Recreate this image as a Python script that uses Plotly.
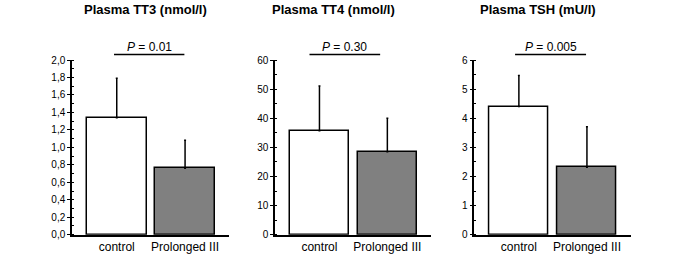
import plotly.graph_objects as go

groups = ["control", "Prolonged III"]
titles = ["Plasma TT3 (nmol/l)", "Plasma TT4 (nmol/l)", "Plasma TSH (mU/l)"]
means_tt3 = [1.34, 0.76]
sd_tt3 = [0.45, 0.32]
means_tt4 = [35.7, 28.5]
sd_tt4 = [15.4, 11.5]
means_tsh = [4.40, 2.32]
sd_tsh = [1.07, 1.39]
p_labels = ["0.01", "0.30", "0.005"]
y_max = [2.0, 60, 6]
y_dtick = [0.2, 10, 1]
y_minor = [0.1, 5, 0.5]
y_fmt = [".1f", "d", "d"]

means = [means_tt3, means_tt4, means_tsh]
sds = [sd_tt3, sd_tt4, sd_tsh]

W, H = 685, 256


def px_x(v):
    return v / W


def px_y(v):
    return (H - v) / H


x_dom_px = [(72, 229), (275, 431), (474.3, 630.7)]
y_dom = [px_y(234.7), px_y(60)]
xr = [-0.655, 1.643]
p_line = [(-0.04, 0.99), (-0.147, 0.894), (-0.056, 0.987)]
title_x = [145, 333, 537.7]

font = "Liberation Sans, Arial, sans-serif"
fig = go.Figure()
layout = dict(
    template="none",
    width=W, height=H, margin=dict(l=0, r=0, t=0, b=0, autoexpand=False),
    paper_bgcolor="white", plot_bgcolor="white", showlegend=False,
    separators=",.", font=dict(family=font, color="black"),
    bargap=0, shapes=[], annotations=[],
)
for i in range(3):
    xa = "x" if i == 0 else f"x{i+1}"
    ya = "y" if i == 0 else f"y{i+1}"
    fig.add_trace(go.Bar(
        x=[0, 1], y=means[i], width=0.875,
        marker=dict(color=["white", "#808080"], line=dict(color="black", width=1.5)),
        error_y=dict(type="data", array=sds[i], arrayminus=[0, 0], symmetric=False,
                     color="black", thickness=1.5, width=1),
        xaxis=xa, yaxis=ya, hoverinfo="skip",
    ))
    d0, d1 = x_dom_px[i]
    layout["xaxis" if i == 0 else f"xaxis{i+1}"] = dict(
        domain=[px_x(d0), px_x(d1)], range=xr, anchor=ya, automargin=False,
        tickvals=[0, 1], ticktext=groups, ticks="", showgrid=False, zeroline=False,
        showline=True, linecolor="black", linewidth=1.5,
        tickfont=dict(size=12, family=font), fixedrange=True,
    )
    layout["yaxis" if i == 0 else f"yaxis{i+1}"] = dict(
        domain=list(y_dom), range=[0, y_max[i]], anchor=xa, automargin=False,
        dtick=y_dtick[i], tick0=0, tickformat=y_fmt[i],
        ticks="outside", ticklen=3, tickwidth=1, tickcolor="black",
        minor=dict(dtick=y_minor[i], ticks="inside", ticklen=2, tickcolor="black", showgrid=False),
        showgrid=False, zeroline=False, showline=True, linecolor="black", linewidth=1.5,
        tickfont=dict(size=10, family=font), fixedrange=True,
    )
    xp0, xp1 = p_line[i]
    layout["shapes"].append(dict(type="line", xref=xa, yref="paper",
                                 x0=xp0, x1=xp1, y0=px_y(54.5), y1=px_y(54.5),
                                 line=dict(color="black", width=1.5)))
    layout["annotations"].append(dict(
        x=(xp0 + xp1) / 2, y=px_y(46.5), xref=xa, yref="paper",
        text=f"<i>P</i> = {p_labels[i]}", showarrow=False,
        font=dict(size=12, family=font), xanchor="center", yanchor="middle"))
    layout["annotations"].append(dict(
        x=px_x(title_x[i]), y=px_y(9.5), xref="paper", yref="paper",
        text=f"<b>{titles[i]}</b>", showarrow=False,
        font=dict(size=13, family=font), xanchor="center", yanchor="middle"))

fig.update_layout(**layout)
fig.write_html("out.html", config={"displayModeBar": False},
               post_script="document.body.style.margin='0';document.body.style.overflow='hidden';")
